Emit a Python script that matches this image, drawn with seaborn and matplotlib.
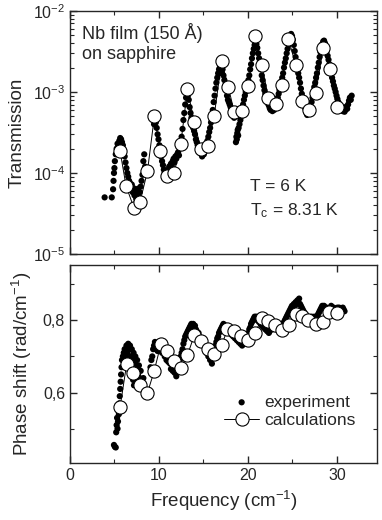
import numpy as np
import matplotlib
matplotlib.use('Agg')
import matplotlib.pyplot as plt
import seaborn as sns
from matplotlib.ticker import LogLocator, MultipleLocator, FuncFormatter, NullFormatter

# --- dados: transmissao (painel superior) ---
exp_T_freq = [3.9, 4.7, 4.85, 4.9, 4.95, 5.0, 5.05, 5.15, 5.25, 5.35, 5.45, 5.55, 5.65, 5.75, 5.85,
              5.95, 6.05, 6.15, 6.25, 6.35, 6.45, 6.55, 6.65, 6.75, 6.85, 6.95, 7.05, 7.15, 7.25,
              7.35, 7.45, 7.55, 7.65, 7.75, 7.85, 7.95, 8.05, 8.15, 8.25, 8.35, 8.45,
              9.45, 9.55, 9.65, 9.75, 9.85, 9.95, 10.05, 10.15, 10.25, 10.35, 10.45, 10.55, 10.65,
              10.75, 10.85, 10.95, 11.05, 11.15, 11.25, 11.35, 11.45, 11.55, 11.65, 11.75, 11.85,
              11.95, 12.05, 12.15, 12.25, 12.35, 12.45, 12.55, 12.65, 12.75, 12.85, 12.95, 13.05,
              13.15, 13.25, 13.35, 13.45, 13.55, 13.65, 13.75, 13.85, 13.95, 14.05, 14.15, 14.25,
              14.35, 14.45, 14.55, 14.65, 14.75, 14.85, 14.95, 15.05, 15.15, 15.25, 15.35, 15.45,
              15.55, 15.65, 15.75, 15.85, 15.95, 16.05, 16.15, 16.25, 16.35, 16.45, 16.55, 16.65,
              16.75, 16.85, 16.95, 17.05, 17.15, 17.25, 17.35, 17.45, 17.55, 17.65, 17.75, 17.85,
              17.95, 18.05, 18.15, 18.25, 18.35, 18.45, 18.65, 18.7, 18.75, 18.8, 18.85, 18.9,
              18.95, 19.05, 19.15, 19.25, 19.35, 19.45, 19.55, 19.65, 19.75, 19.85, 19.95, 20.05,
              20.15, 20.25, 20.35, 20.45, 20.55, 20.65, 20.75, 20.85, 20.95, 21.05, 21.15, 21.25,
              21.35, 21.45, 21.55, 21.65, 21.75, 21.85, 21.95, 22.05, 22.15, 22.25, 22.35, 22.45,
              22.55, 22.65, 22.75, 22.85, 22.95, 23.05, 23.15, 23.25, 23.35, 23.45, 23.55, 23.65,
              23.75, 23.85, 23.95, 24.05, 24.15, 24.25, 24.35, 24.45, 24.55, 24.65, 24.75, 24.85,
              24.95, 25.05, 25.15, 25.25, 25.35, 25.45, 25.55, 25.65, 25.75, 25.85, 25.95, 26.05,
              26.15, 26.25, 26.35, 26.45, 26.55, 26.65, 26.75, 26.85, 26.95, 27.05, 27.15, 27.25,
              27.35, 27.45, 27.55, 27.65, 27.75, 27.85, 27.95, 28.05, 28.15, 28.25, 28.35, 28.45,
              28.55, 28.65, 28.75, 28.85, 28.95, 29.05, 29.15, 29.25, 29.35, 29.45, 29.55, 29.65,
              29.75, 29.85, 29.95, 30.05, 30.15, 30.25, 30.35, 30.45, 30.55, 30.65, 30.75, 30.85,
              30.95, 31.05, 31.15, 31.25, 31.35, 31.45, 31.55, 31.65]
exp_T = [5.0e-5, 5.0e-5, 6.3e-5, 8.0e-5, 1.0e-4, 1.15e-4, 1.4e-4, 1.7e-4, 2.0e-4, 2.3e-4, 2.2e-4,
         2.5e-4, 2.7e-4, 2.6e-4, 2.4e-4, 2.2e-4, 1.9e-4, 1.6e-4, 1.35e-4, 1.15e-4, 1.0e-4, 9.0e-5,
         8.0e-5, 7.5e-5, 6.6e-5, 7.2e-5, 5.8e-5, 6.5e-5, 5.3e-5, 6.0e-5, 4.8e-5, 5.6e-5, 6.4e-5,
         5.0e-5, 5.8e-5, 6.8e-5, 8.0e-5, 9.5e-5, 1.4e-4, 1.7e-4, 1.2e-4,
         4.0e-4, 4.5e-4, 4.2e-4, 3.6e-4, 3.0e-4, 2.6e-4, 2.2e-4, 1.9e-4, 1.6e-4, 1.4e-4, 1.25e-4,
         1.1e-4, 1.0e-4, 9.0e-5, 1.05e-4, 9.5e-5, 1.1e-4, 1.2e-4, 1.05e-4, 1.3e-4, 1.2e-4, 1.4e-4,
         1.5e-4, 1.35e-4, 1.6e-4, 1.5e-4, 1.7e-4, 1.8e-4, 1.65e-4, 2.0e-4, 2.3e-4, 2.8e-4, 3.5e-4,
         4.5e-4, 5.5e-4, 7.0e-4, 8.5e-4, 9.5e-4, 9.0e-4, 8.0e-4, 6.5e-4, 5.5e-4, 4.8e-4, 4.2e-4,
         3.6e-4, 3.3e-4, 3.0e-4, 2.6e-4, 2.4e-4, 2.2e-4, 2.0e-4, 1.8e-4, 1.9e-4, 1.7e-4, 1.6e-4,
         1.8e-4, 1.7e-4, 1.9e-4, 2.0e-4, 2.2e-4, 2.5e-4, 2.8e-4, 3.2e-4, 3.6e-4, 4.2e-4, 5.0e-4,
         6.0e-4, 7.5e-4, 9.0e-4, 1.1e-3, 1.3e-3, 1.5e-3, 1.7e-3, 1.9e-3, 2.0e-3, 1.8e-3, 1.7e-3,
         1.9e-3, 1.6e-3, 1.4e-3, 1.2e-3, 1.05e-3, 9.0e-4, 8.0e-4, 7.5e-4, 7.0e-4, 6.5e-4, 6.0e-4,
         5.6e-4, 5.3e-4, 4.8e-4, 2.4e-4, 2.8e-4, 2.6e-4, 3.1e-4, 3.4e-4, 2.9e-4, 3.6e-4, 4.0e-4,
         4.5e-4, 5.0e-4, 6.0e-4, 7.0e-4, 8.0e-4, 9.0e-4, 1.0e-3, 1.1e-3, 1.2e-3, 1.4e-3, 1.6e-3,
         1.9e-3, 2.2e-3, 2.6e-3, 3.0e-3, 3.4e-3, 3.8e-3, 4.1e-3, 3.9e-3, 3.5e-3, 3.0e-3, 2.6e-3,
         2.2e-3, 1.9e-3, 1.6e-3, 1.4e-3, 1.2e-3, 1.05e-3, 9.5e-4, 8.5e-4, 7.8e-4, 7.2e-4, 6.8e-4,
         6.3e-4, 6.0e-4, 6.2e-4, 5.8e-4, 6.3e-4, 6.0e-4, 6.6e-4, 7.0e-4, 7.5e-4, 8.5e-4, 9.5e-4,
         1.05e-3, 1.2e-3, 1.35e-3, 1.5e-3, 1.7e-3, 2.0e-3, 2.3e-3, 2.6e-3, 3.0e-3, 3.4e-3, 3.9e-3,
         4.3e-3, 4.8e-3, 5.2e-3, 4.9e-3, 4.4e-3, 3.8e-3, 3.2e-3, 2.7e-3, 2.3e-3, 2.0e-3, 1.7e-3,
         1.5e-3, 1.3e-3, 1.1e-3, 9.5e-4, 8.5e-4, 7.5e-4, 6.8e-4, 6.2e-4, 5.6e-4, 5.2e-4, 5.8e-4,
         5.4e-4, 6.0e-4, 6.6e-4, 7.5e-4, 8.5e-4, 1.0e-3, 1.15e-3, 1.3e-3, 1.5e-3, 1.7e-3, 2.0e-3,
         2.3e-3, 2.7e-3, 3.1e-3, 3.5e-3, 3.9e-3, 4.2e-3, 4.3e-3, 4.0e-3, 3.6e-3, 3.2e-3, 2.8e-3,
         2.5e-3, 2.2e-3, 1.9e-3, 1.7e-3, 1.5e-3, 1.35e-3, 1.2e-3, 1.1e-3, 1.0e-3, 9.0e-4, 8.2e-4,
         7.5e-4, 7.0e-4, 6.5e-4, 6.2e-4, 6.0e-4, 5.8e-4, 6.2e-4, 5.7e-4, 6.0e-4, 6.6e-4, 6.2e-4,
         7.0e-4, 7.8e-4, 8.5e-4, 8.0e-4, 9.0e-4]

calc_freq = [5.63, 6.31, 7.2, 7.88, 8.71, 9.5, 10.14, 10.96, 11.71, 12.46, 13.2, 13.96, 14.7,
             15.46, 16.2, 17.04, 17.8, 18.47, 19.3, 20.05, 20.8, 21.55, 22.3, 23.12, 23.8, 24.55,
             25.37, 26.1, 26.9, 27.6, 28.45, 29.2, 29.95]
calc_T = [1.88e-4, 6.9e-5, 3.7e-5, 4.4e-5, 1.05e-4, 5.1e-4, 1.86e-4, 9.1e-5, 1.0e-4, 2.3e-4,
          1.08e-3, 4.3e-4, 2.0e-4, 2.15e-4, 5.0e-4, 2.4e-3, 1.14e-3, 5.6e-4, 5.8e-4, 1.2e-3,
          4.9e-3, 2.15e-3, 8.5e-4, 7.1e-4, 1.22e-3, 4.47e-3, 2.15e-3, 7.7e-4, 6.0e-4, 9.6e-4,
          3.47e-3, 1.9e-3, 6.6e-4]

# --- dados: deslocamento de fase (painel inferior) ---
exp_P_freq = [4.95, 5.05, 5.15, 5.2, 5.25, 5.3, 5.35, 5.4, 5.45, 5.5, 5.55, 5.6, 5.65, 5.7, 5.75,
              5.8, 5.85, 5.95, 6.05, 6.15, 6.25, 6.35, 6.45, 6.55, 6.65, 6.75, 6.85, 6.95, 7.05,
              7.15, 7.25, 7.35, 7.45, 7.55, 7.65, 7.75, 7.85, 7.95, 8.05, 8.15, 8.25, 8.35, 8.45,
              8.55, 8.65, 7.1, 7.2, 7.3,
              9.05, 9.15, 9.25, 9.35, 9.45, 9.55, 9.65, 9.75, 9.85, 9.95, 10.05, 10.15, 10.25,
              10.35, 10.45, 10.55, 10.65, 10.75, 10.85, 10.95, 11.05, 11.15, 11.25, 11.35, 11.45,
              11.55, 11.65, 11.75, 11.85, 11.95, 12.05, 12.15, 12.25, 12.35, 12.45, 12.55, 12.65,
              12.75, 12.85, 12.95, 13.05, 13.15, 13.25, 13.35, 13.45, 13.55, 13.65, 13.75, 13.85,
              13.95, 14.05, 14.15, 14.25, 14.35, 14.45, 14.55, 14.65, 14.75, 14.85, 14.95, 15.05,
              15.15, 15.25, 15.35, 15.45, 15.55, 15.65, 15.75, 15.85, 15.95, 16.05, 16.15, 16.25,
              16.35, 16.45, 16.55, 16.65, 16.75, 16.85, 16.95, 17.05, 17.15, 17.25, 17.35, 17.45,
              17.55, 17.65, 17.75, 17.85, 17.95, 18.05, 18.15, 18.25, 18.35, 18.45, 18.55, 18.65,
              18.75, 18.85, 18.95, 19.05, 19.15, 19.25, 19.35, 19.45, 19.55, 19.65, 19.75, 19.85,
              19.95, 20.05, 20.15, 20.25, 20.35, 20.45, 20.55, 20.65, 20.75, 20.85, 20.95, 21.05,
              21.15, 21.25, 21.35, 21.45, 21.55, 21.65, 21.75, 21.85, 21.95, 22.05, 22.15, 22.25,
              22.35, 22.45, 22.55, 22.65, 22.75, 22.85, 22.95, 23.05, 23.15, 23.25, 23.35, 23.45,
              23.55, 23.65, 23.75, 23.85, 23.95, 24.05, 24.15, 24.25, 24.35, 24.45, 24.55, 24.65,
              24.75, 24.85, 24.95, 25.05, 25.15, 25.25, 25.35, 25.45, 25.55, 25.65, 25.75, 25.85,
              25.95, 26.05, 26.15, 26.25, 26.35, 26.45, 26.55, 26.65, 26.75, 26.85, 26.95, 27.05,
              27.15, 27.25, 27.35, 27.45, 27.55, 27.65, 27.75, 27.85, 27.95, 28.05, 28.15, 28.25,
              28.35, 28.45, 28.55, 28.65, 28.75, 28.85, 28.95, 29.05, 29.15, 29.25, 29.35, 29.45,
              29.55, 29.65, 29.75, 29.85, 29.95, 30.05, 30.15, 30.25, 30.35, 30.45, 30.55, 30.65,
              30.75, 30.85]
exp_P = [0.455, 0.45, 0.448, 0.49, 0.51, 0.53, 0.50, 0.52, 0.55, 0.54, 0.57, 0.59, 0.61, 0.63,
         0.65, 0.67, 0.69, 0.70, 0.71, 0.72, 0.70, 0.73, 0.71, 0.735, 0.72, 0.73, 0.70, 0.72, 0.69,
         0.71, 0.68, 0.70, 0.665, 0.69, 0.65, 0.675, 0.64, 0.66, 0.63, 0.62, 0.64, 0.61, 0.60,
         0.605, 0.595, 0.635, 0.62, 0.64,
         0.67, 0.69, 0.70, 0.72, 0.73, 0.74, 0.72, 0.735, 0.715, 0.73, 0.72, 0.74, 0.725, 0.71,
         0.73, 0.715, 0.70, 0.71, 0.69, 0.70, 0.685, 0.695, 0.68, 0.665, 0.685, 0.66, 0.675,
         0.655, 0.67, 0.645, 0.66, 0.68, 0.67, 0.69, 0.70, 0.71, 0.72, 0.735, 0.745, 0.755, 0.76,
         0.765, 0.77, 0.775, 0.78, 0.785, 0.79, 0.785, 0.79, 0.78, 0.785, 0.775, 0.77, 0.76,
         0.765, 0.755, 0.75, 0.745, 0.74, 0.735, 0.73, 0.725, 0.72, 0.71, 0.715, 0.70, 0.705,
         0.69, 0.70, 0.68, 0.695, 0.71, 0.72, 0.73, 0.74, 0.75, 0.755, 0.765, 0.77, 0.775, 0.78,
         0.785, 0.79, 0.785, 0.78, 0.785, 0.78, 0.775, 0.77, 0.765, 0.77, 0.76, 0.765, 0.755,
         0.76, 0.75, 0.755, 0.745, 0.75, 0.74, 0.745, 0.735, 0.74, 0.73, 0.745, 0.735, 0.75,
         0.745, 0.76, 0.755, 0.765, 0.775, 0.78, 0.79, 0.795, 0.80, 0.805, 0.81, 0.805, 0.81,
         0.80, 0.805, 0.795, 0.80, 0.79, 0.785, 0.79, 0.78, 0.785, 0.775, 0.78, 0.77, 0.775,
         0.765, 0.77, 0.775, 0.78, 0.775, 0.78, 0.785, 0.78, 0.775, 0.78, 0.775, 0.78, 0.77,
         0.775, 0.78, 0.785, 0.79, 0.795, 0.80, 0.805, 0.81, 0.815, 0.82, 0.825, 0.83, 0.835,
         0.84, 0.835, 0.845, 0.84, 0.85, 0.845, 0.855, 0.85, 0.86, 0.845, 0.84, 0.835, 0.83,
         0.825, 0.82, 0.815, 0.81, 0.805, 0.81, 0.80, 0.805, 0.80, 0.81, 0.80, 0.805, 0.81, 0.80,
         0.805, 0.81, 0.815, 0.82, 0.825, 0.83, 0.835, 0.84, 0.835, 0.84, 0.835, 0.83, 0.835,
         0.83, 0.825, 0.83, 0.835, 0.84, 0.835, 0.83, 0.835, 0.83, 0.825, 0.83, 0.835, 0.83,
         0.835, 0.83, 0.825, 0.83, 0.835, 0.83, 0.825]

calc_P_freq = [5.63, 6.38, 7.13, 7.88, 8.71, 9.46, 10.21, 10.96, 11.71, 12.46, 13.2, 13.96, 14.7,
               15.46, 16.2, 17.04, 17.7, 18.47, 19.2, 20.05, 20.8, 21.55, 22.3, 23.05, 23.8,
               24.6, 25.37, 26.05, 26.8, 27.6, 28.4, 29.1, 29.95]
calc_P = [0.559, 0.680, 0.655, 0.621, 0.599, 0.659, 0.733, 0.715, 0.687, 0.669, 0.703, 0.758,
          0.743, 0.721, 0.706, 0.731, 0.775, 0.769, 0.756, 0.746, 0.765, 0.805, 0.798, 0.786,
          0.774, 0.786, 0.817, 0.811, 0.800, 0.791, 0.795, 0.823, 0.819]

# --- estilo ---
sns.set_style('ticks')
plt.rcParams['font.family'] = ['Liberation Sans', 'DejaVu Sans']
plt.rcParams['mathtext.fontset'] = 'custom'
plt.rcParams['mathtext.rm'] = 'Liberation Sans'
plt.rcParams['mathtext.it'] = 'Liberation Sans:italic'
plt.rcParams['xtick.direction'] = 'in'
plt.rcParams['ytick.direction'] = 'in'
plt.rcParams['axes.linewidth'] = 1.0

fig = plt.figure(figsize=(3.82, 5.20), dpi=100)
ax1 = fig.add_axes([0.183, 0.5115, 0.804, 0.4675])
ax2 = fig.add_axes([0.183, 0.1096, 0.804, 0.3808])

dot_kw = dict(color='black', s=20, linewidth=0, edgecolor='none')
circ_kw = dict(color='black', lw=0.7, marker='o', markersize=9.5,
               markerfacecolor='white', markeredgecolor='black', markeredgewidth=0.8)

# painel superior
sns.scatterplot(x=exp_T_freq, y=exp_T, ax=ax1, **dot_kw)
sns.lineplot(x=calc_freq, y=calc_T, ax=ax1, sort=False, estimator=None, **circ_kw)
ax1.set_yscale('log')
ax1.set_ylim(1e-5, 1e-2)
ax1.set_xlim(0, 34.5)
ax1.yaxis.set_major_locator(LogLocator(base=10, numticks=10))
ax1.yaxis.set_minor_locator(LogLocator(base=10, subs=np.arange(2, 10), numticks=10))
ax1.yaxis.set_minor_formatter(NullFormatter())
ax1.xaxis.set_major_locator(MultipleLocator(10))
ax1.xaxis.set_minor_locator(MultipleLocator(5))
ax1.xaxis.set_major_formatter(NullFormatter())
ax1.set_ylabel('Transmission', fontsize=13.5, labelpad=5)
ax1.text(0.04, 0.95, 'Nb film (150 Å)\non sapphire', transform=ax1.transAxes,
         fontsize=13, va='top', ha='left', linespacing=1.2)
ax1.text(0.585, 0.31, 'T = 6 K', transform=ax1.transAxes, fontsize=12.5, va='top')
ax1.text(0.585, 0.215, 'T$_\\mathrm{c}$ = 8.31 K', transform=ax1.transAxes, fontsize=12.5, va='top')

# painel inferior
sns.scatterplot(x=exp_P_freq, y=exp_P, ax=ax2, label='experiment', **dot_kw)
sns.lineplot(x=calc_P_freq, y=calc_P, ax=ax2, sort=False, estimator=None,
             label='calculations', **circ_kw)
ax2.set_xlim(0, 34.5)
ax2.set_ylim(0.405, 0.953)
ax2.xaxis.set_major_locator(MultipleLocator(10))
ax2.xaxis.set_minor_locator(MultipleLocator(5))
ax2.yaxis.set_major_locator(MultipleLocator(0.2))
ax2.yaxis.set_minor_locator(MultipleLocator(0.1))
ax2.yaxis.set_major_formatter(FuncFormatter(lambda v, p: f'{v:.1f}'.replace('.', ',')))
ax2.set_xlabel('Frequency (cm$^{-1}$)', fontsize=13.5, labelpad=4)
ax2.set_ylabel('Phase shift (rad/cm$^{-1}$)', fontsize=13.5, labelpad=6)
ax2.legend(loc='upper left', bbox_to_anchor=(0.48, 0.38), frameon=False, fontsize=12.5,
           handlelength=2.0, handletextpad=0.3, labelspacing=0.2, borderaxespad=0)

for ax in (ax1, ax2):
    ax.tick_params(which='both', top=True, right=True, labelsize=11.5)
    ax.tick_params(which='major', length=5, width=1.0)
    ax.tick_params(which='minor', length=3, width=0.8)

plt.savefig('out.png', dpi=100)
